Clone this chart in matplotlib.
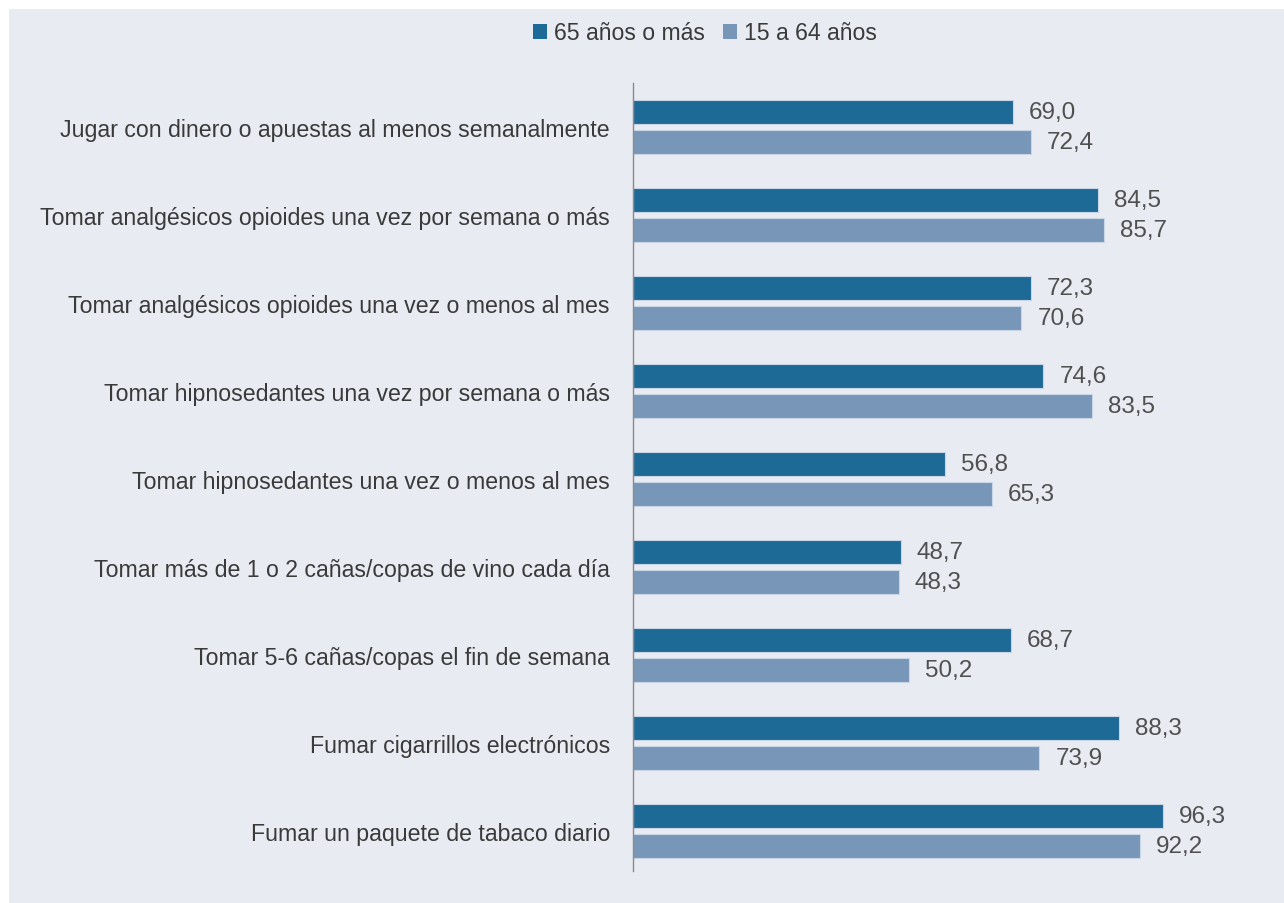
import matplotlib
matplotlib.use("Agg")
import matplotlib.pyplot as plt
from matplotlib.patches import Patch, Rectangle
import numpy as np

categories = [
    "Jugar con dinero o apuestas al menos semanalmente",
    "Tomar analgésicos opioides una vez por semana o más",
    "Tomar analgésicos opioides una vez o menos al mes",
    "Tomar hipnosedantes una vez por semana o más",
    "Tomar hipnosedantes una vez o menos al mes",
    "Tomar más de 1 o 2 cañas/copas de vino cada día",
    "Tomar 5-6 cañas/copas el fin de semana",
    "Fumar cigarrillos electrónicos",
    "Fumar un paquete de tabaco diario",
]
series_names = ["65 años o más", "15 a 64 años"]
vals_65 = [69.0, 84.5, 72.3, 74.6, 56.8, 48.7, 68.7, 88.3, 96.3]
vals_15 = [72.4, 85.7, 70.6, 83.5, 65.3, 48.3, 50.2, 73.9, 92.2]

c_dark = "#1e6a97"
c_light = "#7896b7"
bg = "#e8ebf2"
txt = "#3a3a3a"

plt.rcParams['font.family'] = ['Liberation Sans', 'DejaVu Sans']

W, H = 1284, 904
fig = plt.figure(figsize=(W/100, H/100), dpi=100)
fig.patch.set_facecolor("white")
fig.patches.append(Rectangle((9/W, -0.02), 1.02 - 9/W, (H-10)/H + 0.02, transform=fig.transFigure,
                             facecolor=bg, edgecolor="none", zorder=-10))

ax = fig.add_axes([633/W, (H-876)/H, (W-633)/W, (876-84)/H])
ax.set_facecolor("none")

y = np.arange(len(categories))
off = 15/88
h = 24/88
ax.barh(y - off, vals_65, height=h, color=c_dark, edgecolor="#c9d6e6", linewidth=0.8, label=series_names[0])
ax.barh(y + off, vals_15, height=h, color=c_light, edgecolor="#c9d6e6", linewidth=0.8, label=series_names[1])

for yi, v in zip(y, vals_65):
    ax.annotate(f"{v:.1f}".replace(".", ","), (v, yi - off), xytext=(16*0.72, 0),
                textcoords="offset points", va="center", ha="left", fontsize=17.5, color="#505050")
for yi, v in zip(y, vals_15):
    ax.annotate(f"{v:.1f}".replace(".", ","), (v, yi + off), xytext=(16*0.72, 0),
                textcoords="offset points", va="center", ha="left", fontsize=17.5, color="#505050")

ax.set_xlim(0, (W-633)/5.5)
ax.set_ylim(len(categories) - 0.5, -0.5)
ax.set_yticks(y)
ax.set_yticklabels(categories, fontsize=16.7, color=txt)
ax.tick_params(axis="y", length=0, pad=23*0.72)
ax.set_xticks([])
for s in ["top", "right", "bottom"]:
    ax.spines[s].set_visible(False)
ax.spines["left"].set_color("#8a8a8a")
ax.spines["left"].set_linewidth(1.0)
ax.spines["left"].set_bounds(len(categories) - 0.5 - 4/88, -0.5)

handles = [Patch(facecolor=c_dark, edgecolor="none"), Patch(facecolor=c_light, edgecolor="none")]
fig.legend(handles, series_names, loc="center", bbox_to_anchor=(705/W, (H-34)/H), ncol=2,
           frameon=False, fontsize=16.6, handlelength=0.6, handleheight=0.6,
           handletextpad=0.3, columnspacing=0.8, labelcolor=txt)

fig.savefig("out.png", dpi=100, facecolor=fig.get_facecolor())
